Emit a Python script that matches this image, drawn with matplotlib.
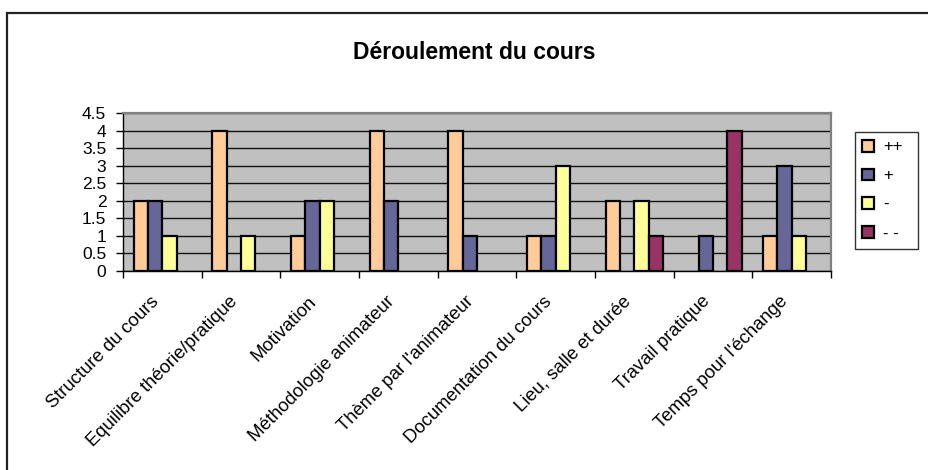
import matplotlib
matplotlib.use("Agg")
import matplotlib.pyplot as plt
import matplotlib.transforms as mtransforms
import numpy as np
from matplotlib.patches import Rectangle

plt.rcParams['font.family'] = ['Liberation Sans', 'DejaVu Sans']

categories = ["Structure du cours", "Equilibre théorie/pratique", "Motivation",
              "Méthodologie animateur", "Thème par l'animateur", "Documentation du cours",
              "Lieu, salle et durée", "Travail pratique", "Temps pour l'échange"]
series_names = ["++", "+", "-", "- -"]
v_pp = [2, 4, 1, 4, 4, 1, 2, 0, 1]
v_p = [2, 0, 2, 2, 1, 1, 0, 1, 3]
v_m = [1, 1, 2, 0, 0, 3, 2, 0, 1]
v_mm = [0, 0, 0, 0, 0, 0, 1, 4, 0]
yticks = [0, 0.5, 1, 1.5, 2, 2.5, 3, 3.5, 4, 4.5]
ytick_labels = ["0", "0.5", "1", "1.5", "2", "2.5", "3", "3.5", "4", "4.5"]
colors = ["#FFCC99", "#666699", "#FFFF99", "#993366"]

W, H = 929, 470
fig = plt.figure(figsize=(W / 100, H / 100), dpi=100)
fig.patch.set_facecolor("white")

# outer chart frame
fig.add_artist(Rectangle((7 / W, -0.01), 1.02, 1 - 13 / H + 0.01, transform=fig.transFigure,
                         fill=False, edgecolor="#222222", linewidth=1.6))

ax = fig.add_axes([123 / W, 1 - 271 / H, (831 - 123) / W, (271 - 113) / H])
ax.set_facecolor("#C0C0C0")

n = len(categories)
x = np.arange(n) + 0.5
bw = 1 / 5.5
all_vals = [v_pp, v_p, v_m, v_mm]
for i, (vals, c, name) in enumerate(zip(all_vals, colors, series_names)):
    offs = (i - 1.5) * bw
    vals = np.asarray(vals, dtype=float)
    shown = np.where(vals > 0, vals, np.nan)  # zero bars are not visible in Excel
    ax.bar(x + offs, shown, width=bw, color=c, edgecolor="black", linewidth=1.6,
           label=name, zorder=3)

ax.set_xlim(0, n)
ax.set_ylim(0, 4.5)
ax.set_yticks(yticks)
ax.set_yticklabels(ytick_labels, fontsize=12.5)
ax.yaxis.grid(True, color="#111111", linewidth=1.0, zorder=1)
ax.set_axisbelow(True)

ax.set_xticks(np.arange(n + 1))
ax.set_xticklabels([])
ax.tick_params(axis="x", which="major", length=5, width=1, direction="out")
ax.tick_params(axis="y", length=5, width=1, direction="out", pad=7)

# category labels, rotated 45 degrees, right end just below each category centre
base = mtransforms.blended_transform_factory(ax.transData, ax.transAxes)
shift = mtransforms.ScaledTranslation(-12 / 100, -22 / 100, fig.dpi_scale_trans)
for xi, lab in zip(x, categories):
    ax.text(xi, 0, lab, transform=base + shift, rotation=45, rotation_mode="anchor",
            ha="right", va="top", fontsize=13.3, clip_on=False)

for s in ["left", "bottom"]:
    ax.spines[s].set_color("black")
    ax.spines[s].set_linewidth(1.0)
for s in ["top", "right"]:
    ax.spines[s].set_color("#808080")
    ax.spines[s].set_linewidth(1.6)

fig.text(474 / W, 1 - 59 / H, "Déroulement du cours", ha="center", va="baseline",
         fontsize=16.5, fontweight="bold")

leg = ax.legend(loc="upper left", bbox_to_anchor=(855 / W, 1 - 248 / H, 63 / W, 116 / H),
                bbox_transform=fig.transFigure, mode="expand", frameon=True, fancybox=False,
                fontsize=12, handlelength=0.7, handleheight=0.7, handletextpad=0.55,
                labelspacing=0.83, borderpad=0.45, borderaxespad=0)
leg.get_frame().set_edgecolor("black")
leg.get_frame().set_linewidth(1.0)

fig.savefig("out.png", dpi=100)
